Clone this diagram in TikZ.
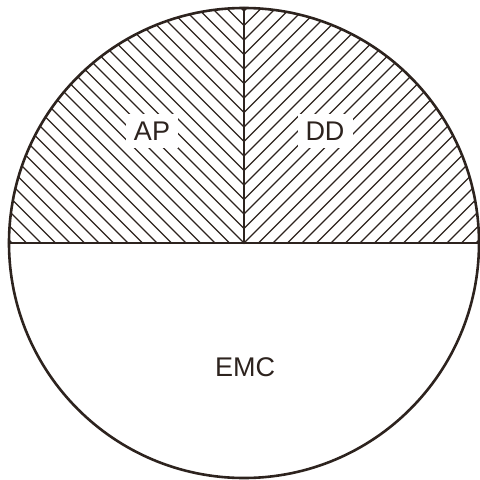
\documentclass[tikz,border=0pt]{standalone}
\usepackage{fontspec}
\setmainfont{Liberation Sans}
\definecolor{ink}{RGB}{45,35,30}

\begin{document}
\begin{tikzpicture}[x=1pt, y=-1pt, line width=2.6pt, line cap=round, line join=round, color=ink,
  hatch/.style={line width=1.4pt, line cap=butt},
  lbl/.style={anchor=center, inner sep=8pt, fill=white, font=\fontsize{27}{32}\selectfont}]

  %% ════ 圆心与分界点 ════
  \coordinate (mid)  at (244,243);
  \coordinate (west) at (9,243);
  \coordinate (east) at (479,243);
  \coordinate (top)  at (244,8);

  %% ════ 上半圆的斜线（左 \\\ 右 ///，在竖线处相交）════
  \begin{scope}
    \clip (mid) circle [radius=235pt];
    \clip (0,0) rectangle (480,243);
    \foreach \k in {-17,...,17}
      \draw[hatch] (-6,243-14.5*\k-250) -- (244,243-14.5*\k) -- (494,243-14.5*\k-250);
  \end{scope}

  %% ════ 标签 ════
  \node[lbl] (ap)  at (152,131) {AP};
  \node[lbl] (dd)  at (325,131) {DD};
  \node[anchor=center, inner sep=0pt, font=\fontsize{27}{32}\selectfont] (emc) at (245,367) {EMC};

  %% ════ 轮廓与分界线 ════
  \draw (mid) circle [radius=235pt];
  \draw (west) -- (east);
  \draw (mid) -- (top);

  % 钉死画布
  \pgfresetboundingbox
  \path[use as bounding box] (0,0) rectangle (480,480);
\end{tikzpicture}
\end{document}
